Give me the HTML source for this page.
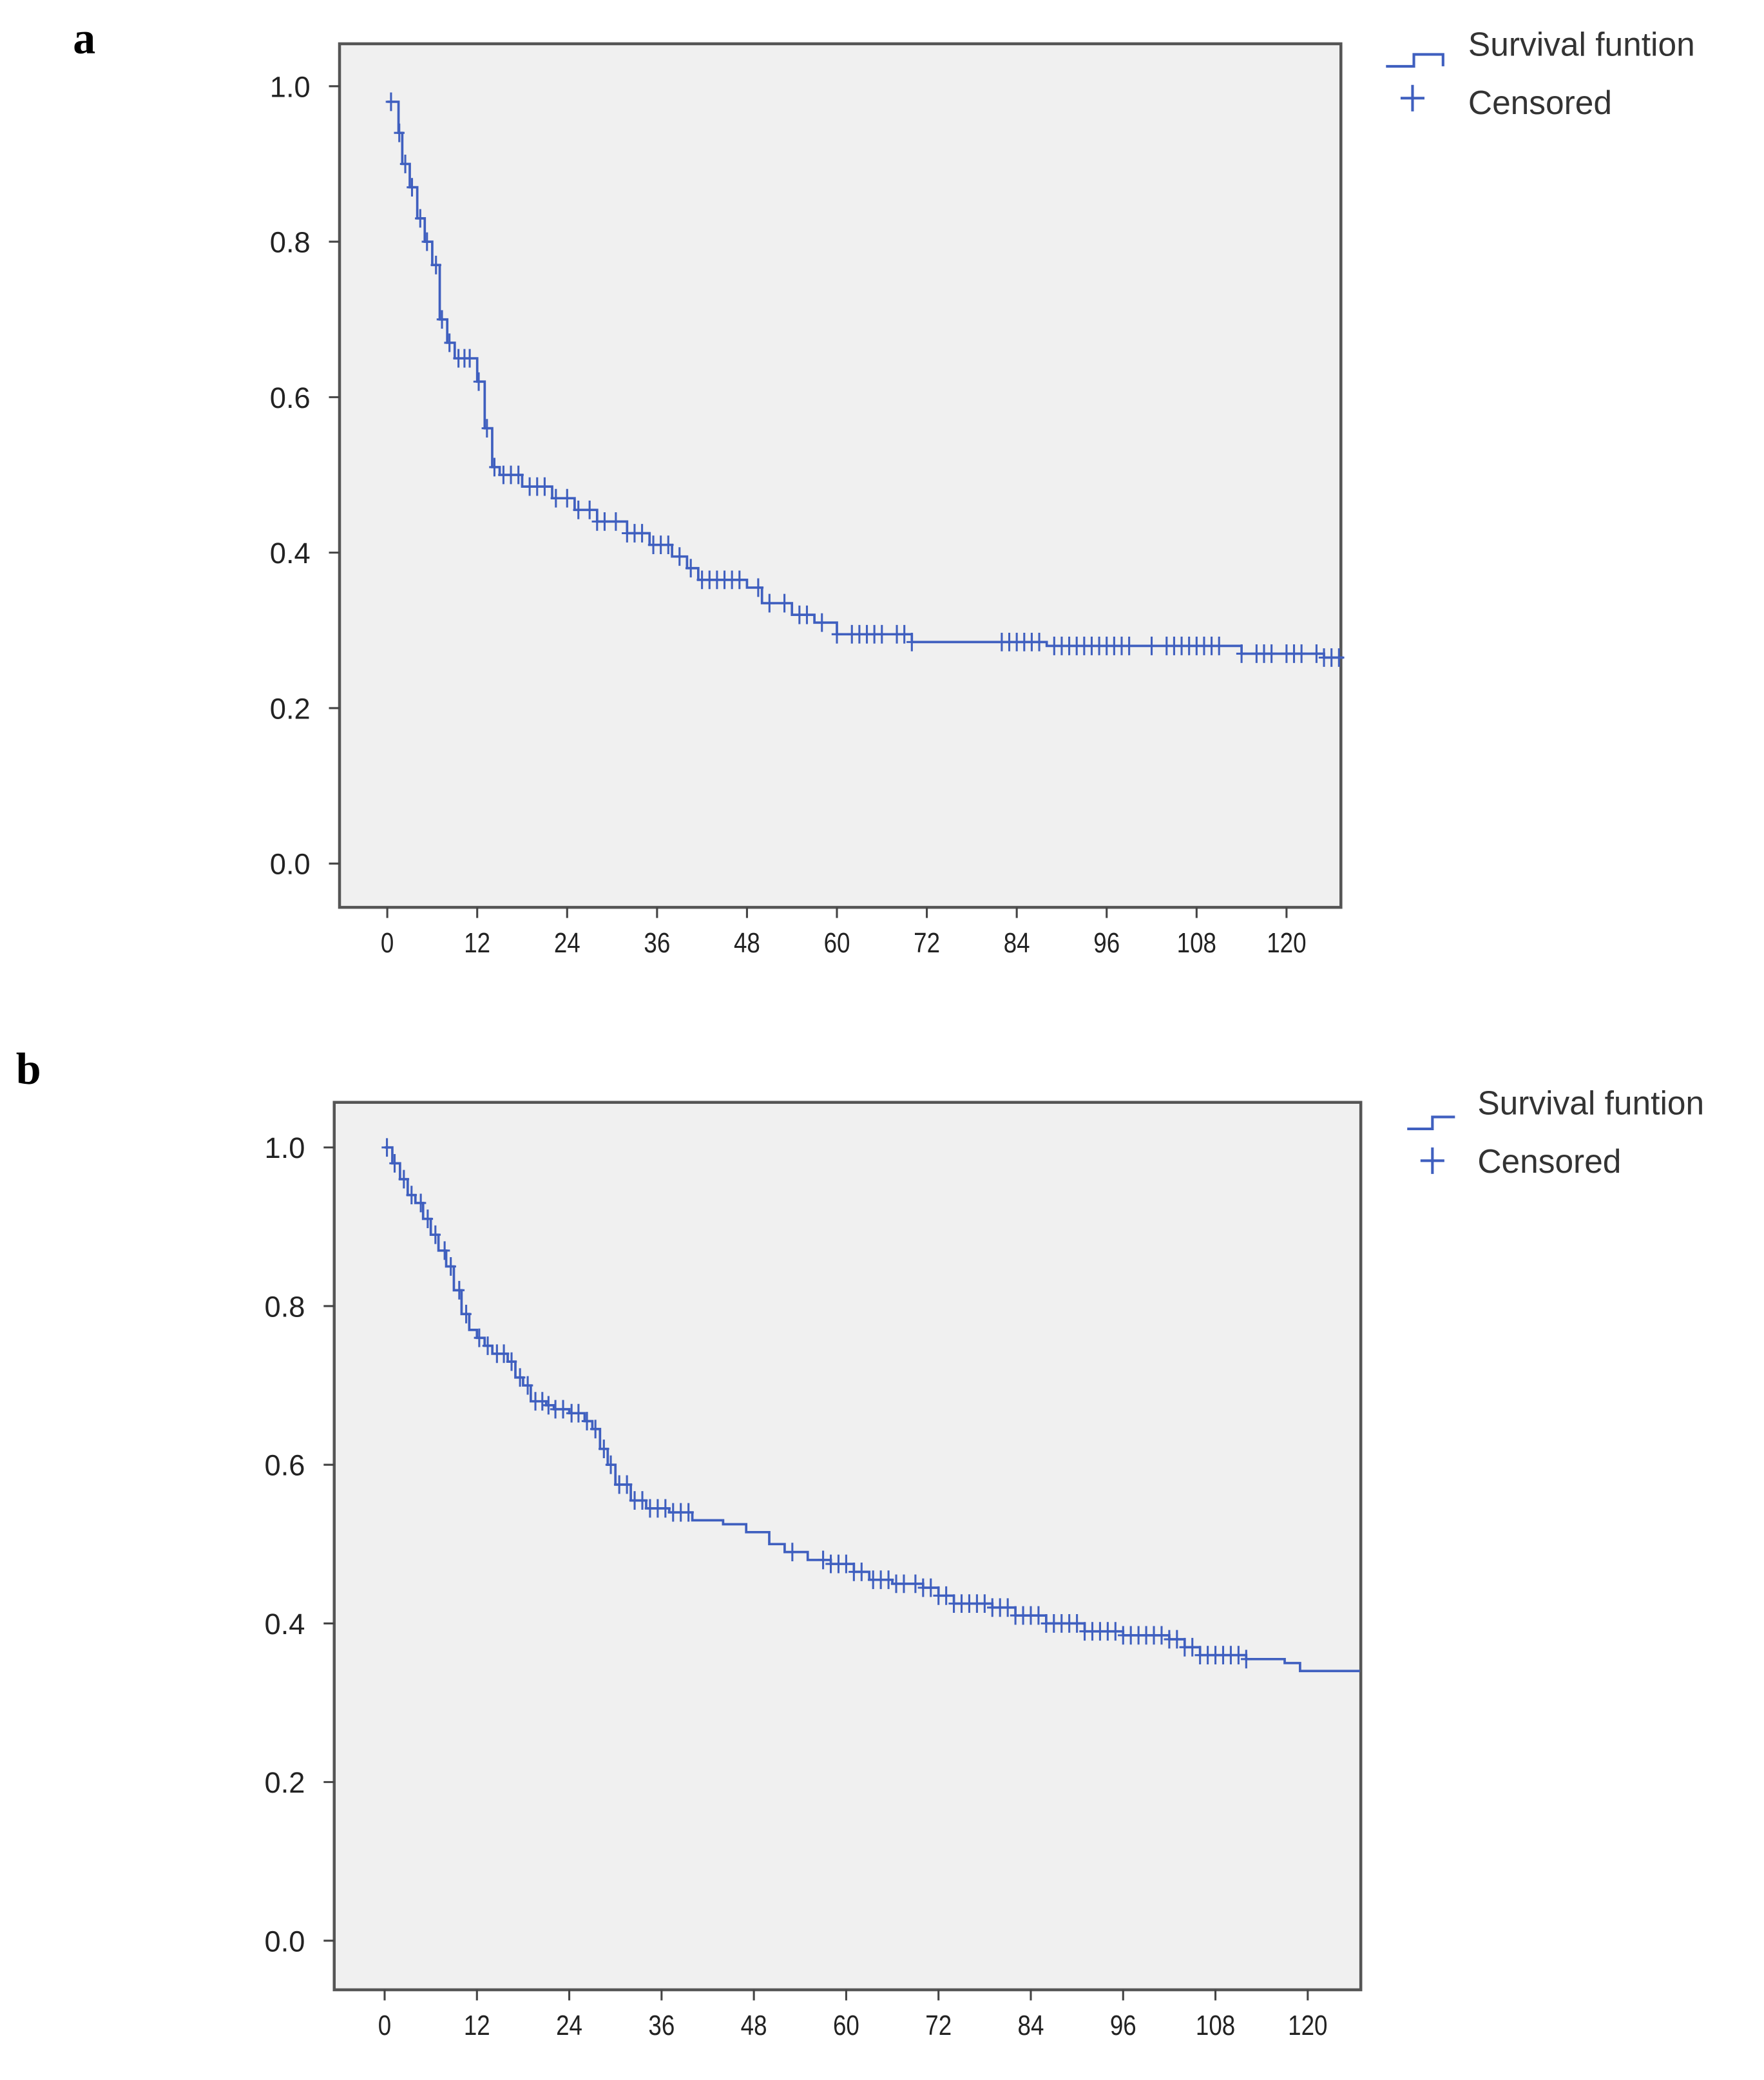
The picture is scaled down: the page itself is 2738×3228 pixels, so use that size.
<!DOCTYPE html>
<html><head><meta charset="utf-8"><style>
html,body{margin:0;padding:0;background:#fff;}
svg{display:block;}
text{font-family:"Liberation Sans",sans-serif;}
</style></head><body>
<svg id="root" width="2738" height="3228" viewBox="0 0 1330 1568" preserveAspectRatio="none" xmlns="http://www.w3.org/2000/svg"></svg>
<script>
// ---- Panel a data ----
const aTimes = [0,1.5,2,3,4,5,6,7,8,9,12,13,14,15,18,22,25,28,32,35,38,40,41.5,48,50,54,57,60,70,88,114,125];
const aSurv  = [0.98,0.94,0.90,0.87,0.83,0.80,0.77,0.70,0.67,0.65,0.62,0.56,0.51,0.50,0.485,0.47,0.455,0.44,0.425,0.41,0.395,0.38,0.365,0.355,0.335,0.32,0.31,0.295,0.285,0.28,0.27,0.265];
const aCens  = [0.5,1.6,2.4,3.3,4.4,5.3,6.5,7.3,8.3,9.5,10.3,11,12.2,13.3,14.3,15.5,16.5,17.5,19,20,21,22.5,24,25.5,27,28,29,30.5,32,33,34,35.5,36.5,37.5,39,40.5,42,43,44,45,46,47,49.5,51,53,55,56,58,60,62,63,64,65,66,68,69,70,82,83,84,85,86,87,89,90,91,92,93,94,95,96,97,98,99,102,104,105,106,107,108,109,110,111,114,116,117,118,120,121,122,124,125,126,127];
const aEnd = 127.6;
// ---- Panel b data ----
const bTimes = [0,1,2,3,4,5,6,7,8,9,10,11,12,13,14,16,17,18,19,21,22,24,26,27,28,29,30,32,34,37,40,44,47,50,52,55,58,61,63,66,70,72,74,79,82,86,91,96,102,104,106,112,117,119];
const bSurv  = [1.0,0.98,0.96,0.94,0.93,0.91,0.89,0.87,0.85,0.82,0.79,0.77,0.76,0.75,0.74,0.73,0.71,0.70,0.68,0.675,0.67,0.665,0.655,0.645,0.62,0.60,0.575,0.555,0.545,0.54,0.53,0.525,0.515,0.50,0.49,0.48,0.475,0.465,0.455,0.45,0.445,0.435,0.425,0.42,0.41,0.40,0.39,0.385,0.38,0.37,0.36,0.355,0.35,0.34];
const bCens  = [0.3,1.3,2.5,3.5,4.7,5.6,6.6,7.8,8.6,9.7,10.6,12.3,13.4,14.6,15.5,16.5,17.6,18.6,19.6,20.5,21.3,22.2,23.2,24.3,25.2,26.3,27.4,28.5,29.4,30.5,31.5,32.5,33.5,34.5,35.5,36.5,37.5,38.5,39.5,53,57,58,59,60,61,62,63.5,64.5,65.5,66.5,67.5,69,70,71,72,73,74,75,76,77,78,79,80,81,82,83,84,85,86,87,88,89,90,91,92,93,94,95,96,97,98,99,100,101,102,103,104,105,106,107,108,109,110,111,112];
const bEnd = 126.8;
const yTicks = [0.0,0.2,0.4,0.6,0.8,1.0];
const xTicks = [0,12,24,36,48,60,72,84,96,108,120];

const NS="http://www.w3.org/2000/svg";
const root=document.getElementById('root');
function el(tag,attrs,parent){const e=document.createElementNS(NS,tag);for(const k in attrs)e.setAttribute(k,attrs[k]);(parent||root).appendChild(e);return e;}

function panel(cfg,times,surv,cens,tEnd){
  const g=el('g',{});
  
  
  const xs=t=>cfg.x0+(t/120)*(cfg.x120-cfg.x0);
  const ys=v=>cfg.y0+(v)*(cfg.y1-cfg.y0);
  const bg=el('rect',{x:cfg.L,y:cfg.T,width:cfg.R-cfg.L,height:cfg.B-cfg.T,fill:'#f0f0f0',stroke:'#555',"stroke-width":2.2},g);
  
  
  yTicks.forEach(v=>{
    el('line',{x1:cfg.L-8,x2:cfg.L,y1:ys(v),y2:ys(v),stroke:'#444','stroke-width':1.5},g);
    const t=el('text',{x:cfg.L-22,y:ys(v)+8,'text-anchor':'end','font-size':22,fill:'#222'},g);
    t.textContent=v.toFixed(1);
    
    
  });
  xTicks.forEach(v=>{
    el('line',{x1:xs(v),x2:xs(v),y1:cfg.B,y2:cfg.B+8,stroke:'#444','stroke-width':1.5},g);
    const t=el('text',{x:xs(v),y:cfg.B+34,'text-anchor':'middle','font-size':21,fill:'#222',transform:`translate(${xs(v)},0) scale(0.85,1) translate(${-xs(v)},0)`},g);
    t.textContent=v;
    
    
  });
  const survAt=t=>{let s=surv[0];for(let i=0;i<times.length;i++){if(times[i]<=t)s=surv[i];}return s;};
  let d=`M${xs(times[0])},${ys(surv[0])}`;
  for(let i=1;i<times.length;i++){d+=` H${xs(times[i])} V${ys(surv[i])}`;}
  d+=` H${xs(tEnd)}`;
  const p=el('path',{d:d,fill:'none',stroke:'#3f5fbf','stroke-width':1.8},g);
  
  
  cens.forEach(t=>{
    const cx=xs(t),cy=ys(survAt(t));
    const m=el('path',{d:`M${cx-4},${cy} H${cx+4} M${cx},${cy-7} V${cy+7}`,stroke:'#3f5fbf','stroke-width':1.5},g);
    
    
  });
  const lg=el('g',{},g);
  
  
  el('path',{d:cfg.legLine,fill:'none',stroke:'#3f5fbf','stroke-width':2},lg);
  el('path',{d:`M${cfg.legPlusX-9},${cfg.legPlusY} H${cfg.legPlusX+9} M${cfg.legPlusX},${cfg.legPlusY-10} V${cfg.legPlusY+10}`,stroke:'#3f5fbf','stroke-width':2},lg);
  const t1=el('text',{x:cfg.legTx,y:cfg.legT1y,'font-size':25,fill:'#333'},lg);
  t1.textContent='Survival funtion';
  
  
  const t2=el('text',{x:cfg.legTx,y:cfg.legT2y,'font-size':25,fill:'#333'},lg);
  t2.textContent='Censored';
  
  
  const lab=el('text',{x:cfg.labX,y:cfg.labY,'font-size':34,'font-weight':'bold',fill:'#000'},g);
  lab.setAttribute('style','font-family:"Liberation Serif",serif');
  lab.textContent=cfg.label;
  
  
}

panel({name:'chart-a',L:256,R:1011,T:33,B:684,x0:292,x120:970,y0:651,y1:65,
  legLine:'M1045,50 H1066 V41 H1088 V50',legPlusX:1065,legPlusY:74,legTx:1107,legT1y:42,legT2y:86,
  label:'a',labX:55,labY:40},aTimes,aSurv,aCens,aEnd);
panel({name:'chart-b',L:252,R:1026,T:831,B:1500,x0:290,x120:986,y0:1463,y1:865,
  legLine:'M1061,851 H1080 V842 H1097',legPlusX:1080,legPlusY:875,legTx:1114,legT1y:840,legT2y:884,
  label:'b',labX:12,labY:817},bTimes,bSurv,bCens,bEnd);
</script>
</body></html>
